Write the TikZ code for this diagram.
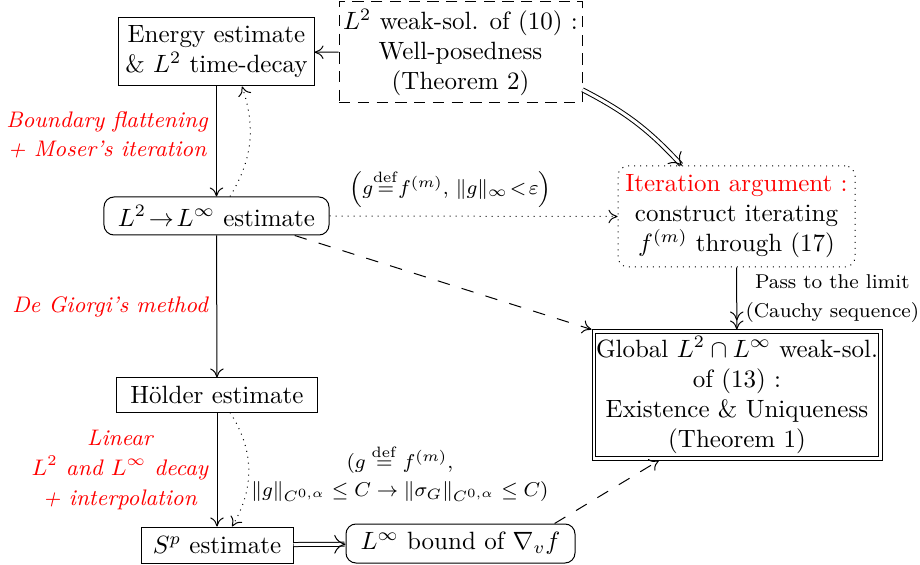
\documentclass[tikz,border=0pt]{standalone}
\usepackage{amsmath}
\usetikzlibrary{arrows.meta,calc}
\begin{document}
\begin{tikzpicture}[x=0.4pt,y=0.4pt,
  box/.style={draw,align=center,inner sep=0pt},
  dbox/.style={dash pattern=on 4.5pt off 3pt},
  darrow/.style={dash pattern=on 5pt off 5pt},
  arr/.style={-{To[length=3.6pt,width=5.4pt]}},
  arrr/.style={-{To[length=3.6pt,width=5.4pt]To[length=3.6pt,width=5.4pt]}},
  dbl/.style={double,double distance=1.2pt,-{To[length=4.5pt,width=7.5pt,line width'=0.4pt]}},
  lbl/.style={font=\small\itshape,text=red,align=center},
  sml/.style={font=\footnotesize,align=center}]
\useasboundingbox (0,0) rectangle (920,-565);

\node[box, minimum width=78pt, minimum height=27.2pt] (energy) at (216.5,-52)
  {Energy estimate\\\& $L^2$ time-decay};
\node[box, dbox, minimum width=97.2pt, minimum height=40.4pt] (weak) at (460.5,-52.5)
  {$L^2$ weak-sol. of (10) :\\Well-posedness\\(Theorem 2)};
\node[box, dotted, rounded corners=4pt, minimum width=94.8pt, minimum height=40.4pt] (iter) at (736.5,-216.5)
  {\textcolor{red}{Iteration argument :}\\construct iterating\\$f^{(m)}$ through (17)};
\node[box, rounded corners=4pt, minimum width=90pt, minimum height=15.2pt] (ltwo) at (216.5,-216)
  {$L^2\!\to\! L^\infty$ estimate};
\node[box, minimum width=116pt, minimum height=52pt] (glob) at (737,-395)
  {Global $L^2\cap L^\infty$ weak-sol.\\of (13) :\\Existence \& Uniqueness\\(Theorem 1)};
\draw ([shift={(1.6pt,-1.6pt)}]glob.north west) rectangle ([shift={(-1.6pt,1.6pt)}]glob.south east);
\node[box, minimum width=80pt, minimum height=13.6pt] (hold) at (217,-395)
  {H\"older estimate};
\node[box, minimum width=60.8pt, minimum height=14.4pt] (sp) at (217,-545)
  {$S^p$ estimate};
\node[box, rounded corners=4pt, minimum width=91.6pt, minimum height=15.6pt] (linf) at (460.5,-543.5)
  {$L^\infty$ bound of $\nabla_v f$};

\draw[arr] (weak) -- (energy);
\draw[dbl] (weak.-17) to[bend left=10] (iter.137);
\draw[arr] (energy) -- node[lbl, left, pos=0.44] {Boundary flattening\\[0.6pt]+ Moser's iteration} (ltwo);
\draw[arr, dotted] ([xshift=5.4pt]ltwo.north) to[bend right=25] ([xshift=10.2pt]energy.south);
\draw[arr, dotted] (ltwo.east) -- node[sml, above, pos=0.42]
  {$\left(g{\overset{\mathrm{def}}{=}}f^{(m)},\,\|g\|_\infty\!<\!\varepsilon\right)$} (iter.west);
\draw[arr, darrow] (ltwo.-14) -- (glob.north west);
\draw[arrr] (iter) -- node[sml, right] {Pass to the limit\\[2.1pt](Cauchy sequence)} (glob);
\draw[arr] (ltwo) -- node[lbl, left] {De Giorgi's method} (hold);
\draw[arr] (hold) -- node[lbl, left] {Linear\\[1pt]$L^2$ and $L^\infty$ decay\\[1pt]+ interpolation} (sp);
\draw[arr, dotted] ([xshift=5.2pt]hold.south) to[bend left=32] ([xshift=6pt]sp.north);
\draw[dbl] (sp) -- (linf);
\draw[arr, darrow] (linf.12) -- (glob.220);
\node[sml] (cond) at (400,-473)
  {$(g \overset{\mathrm{def}}{=} f^{(m)},$\\[1.5pt]$\|g\|_{C^{0,\alpha}}\le C\to\|\sigma_G\|_{C^{0,\alpha}}\le C)$};
\end{tikzpicture}
\end{document}
